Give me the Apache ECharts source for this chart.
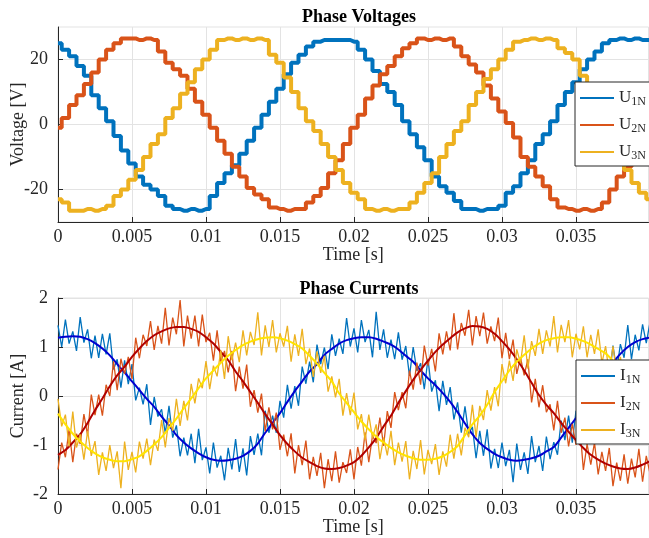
<!DOCTYPE html>
<html><head><meta charset="utf-8">
<script src="https://cdn.jsdelivr.net/npm/echarts@6/dist/echarts.min.js"></script>
<style>html,body{margin:0;padding:0;background:#fff}#c{width:649px;height:538px}</style>
</head><body><div id="c"></div>
<script>
// ---- time bases (s) ----
const timeCoarse = [0,0.0005,0.001,0.0015,0.002,0.0025,0.003,0.0035,0.004,0.0045,0.005,0.0055,0.006,0.0065,0.007,0.0075,0.008,0.0085,0.009,0.0095,0.01,0.0105,0.011,0.0115,0.012,0.0125,0.013,0.0135,0.014,0.0145,0.015,0.0155,0.016,0.0165,0.017,0.0175,0.018,0.0185,0.019,0.0195,0.02,0.0205,0.021,0.0215,0.022,0.0225,0.023,0.0235,0.024,0.0245,0.025,0.0255,0.026,0.0265,0.027,0.0275,0.028,0.0285,0.029,0.0295,0.03,0.0305,0.031,0.0315,0.032,0.0325,0.033,0.0335,0.034,0.0345,0.035,0.0355,0.036,0.0365,0.037,0.0375,0.038,0.0385,0.039,0.0395,0.04];
const timeFine = [
0,0.00025,0.0005,0.00075,0.001,0.00125,0.0015,0.00175,0.002,0.00225,0.0025,0.00275,0.003,0.00325,0.0035,0.00375,
0.004,0.00425,0.0045,0.00475,0.005,0.00525,0.0055,0.00575,0.006,0.00625,0.0065,0.00675,0.007,0.00725,0.0075,0.00775,
0.008,0.00825,0.0085,0.00875,0.009,0.00925,0.0095,0.00975,0.01,0.01025,0.0105,0.01075,0.011,0.01125,0.0115,0.01175,
0.012,0.01225,0.0125,0.01275,0.013,0.01325,0.0135,0.01375,0.014,0.01425,0.0145,0.01475,0.015,0.01525,0.0155,0.01575,
0.016,0.01625,0.0165,0.01675,0.017,0.01725,0.0175,0.01775,0.018,0.01825,0.0185,0.01875,0.019,0.01925,0.0195,0.01975,
0.02,0.02025,0.0205,0.02075,0.021,0.02125,0.0215,0.02175,0.022,0.02225,0.0225,0.02275,0.023,0.02325,0.0235,0.02375,
0.024,0.02425,0.0245,0.02475,0.025,0.02525,0.0255,0.02575,0.026,0.02625,0.0265,0.02675,0.027,0.02725,0.0275,0.02775,
0.028,0.02825,0.0285,0.02875,0.029,0.02925,0.0295,0.02975,0.03,0.03025,0.0305,0.03075,0.031,0.03125,0.0315,0.03175,
0.032,0.03225,0.0325,0.03275,0.033,0.03325,0.0335,0.03375,0.034,0.03425,0.0345,0.03475,0.035,0.03525,0.0355,0.03575,
0.036,0.03625,0.0365,0.03675,0.037,0.03725,0.0375,0.03775,0.038,0.03825,0.0385,0.03875,0.039,0.03925,0.0395,0.03975,
0.04];

// ---- phase voltages (V), read at timeCoarse ----
const u1N = [25,23,21,18,15,9,5,1,-3.5,-8,-12,-16,-18.5,-20,-22,-25,-26,-26.5,-26,-26.5,-26,-22,-18,-15,-12.5,-9,-5,-1,3,7,11,15.5,19,21.5,24,25.5,26,26,26,26,25.5,23,20,16.5,12.5,10,6,1,-3,-7,-11,-16,-19,-21,-23.5,-26,-26,-26.5,-26,-26,-25,-21,-19,-15,-11,-6,-3,1,6,10,13,17,20,22.5,25,26,26.5,26,26.5,26,26];
const u2N = [-1,2,6,9,12.5,16,20,23,25,26.5,26.5,26,26.5,26,22.5,19,17,15,11,7,3,-1,-5,-9,-13,-16,-19.5,-21.5,-23,-25.5,-26,-26.5,-26,-26,-24,-22,-19.5,-15,-11,-6,-1,3,8,12,15.5,18,21,23.5,25,26.5,26,26.5,26,26.5,24,21,18.5,16,12,8,4,0.5,-4,-10,-13,-16,-19,-23,-25.5,-26,-26.5,-26,-26.5,-26,-24,-20,-16,-13,-10,-7,-4];
const u3N = [-23,-24,-26.5,-26.5,-26,-26.5,-26,-25,-22,-20,-17,-14,-10,-6,-3,2,5,9.5,13,17,20,23,26,26.5,26,26.5,26,26.5,26,21.5,19,14.5,10,5,1,-2,-6,-10,-14,-18,-21,-23,-26,-26.5,-26,-26.5,-26,-26,-24,-21,-18,-15,-10,-6,-2,1,6,10,14,17,20,23,25.5,26,26.5,26,26.5,26,23.5,22,20,15,11,6,2,-3,-8,-14,-18,-21,-23];

// ---- phase currents (A): filtered, read at timeCoarse ----
const i1NFilt = [1.19,1.21,1.22,1.21,1.16,1.08,0.97,0.83,0.65,0.48,0.30,0.12,-0.06,-0.22,-0.42,-0.60,-0.80,-0.95,-1.07,-1.17,-1.25,-1.30,-1.32,-1.31,-1.28,-1.22,-1.12,-0.97,-0.75,-0.55,-0.35,-0.12,0.10,0.30,0.50,0.65,0.84,0.96,1.07,1.14,1.18,1.20,1.20,1.17,1.11,1.05,0.95,0.82,0.70,0.52,0.36,0.22,0.06,-0.12,-0.33,-0.56,-0.78,-0.96,-1.08,-1.18,-1.25,-1.30,-1.32,-1.30,-1.27,-1.22,-1.13,-1.04,-0.85,-0.65,-0.45,-0.22,0.02,0.25,0.48,0.68,0.86,1.00,1.10,1.16,1.19];
const i2NFilt = [-1.20,-1.10,-0.95,-0.78,-0.55,-0.29,-0.05,0.20,0.42,0.60,0.80,0.97,1.12,1.24,1.32,1.38,1.41,1.41,1.37,1.31,1.20,1.07,0.90,0.73,0.50,0.30,0.08,-0.14,-0.37,-0.58,-0.80,-0.98,-1.13,-1.26,-1.35,-1.43,-1.48,-1.49,-1.47,-1.42,-1.35,-1.22,-1.05,-0.86,-0.62,-0.40,-0.14,0.10,0.33,0.53,0.72,0.90,1.05,1.18,1.30,1.38,1.43,1.42,1.37,1.27,1.12,0.95,0.75,0.52,0.27,0.02,-0.18,-0.35,-0.55,-0.73,-0.90,-1.06,-1.20,-1.30,-1.38,-1.44,-1.48,-1.49,-1.46,-1.40,-1.33];
const i3NFilt = [-0.36,-0.58,-0.77,-0.93,-1.06,-1.17,-1.25,-1.30,-1.33,-1.33,-1.29,-1.23,-1.12,-0.99,-0.84,-0.65,-0.46,-0.25,-0.05,0.16,0.36,0.52,0.68,0.82,0.94,1.04,1.11,1.16,1.19,1.20,1.18,1.13,1.06,0.97,0.82,0.66,0.47,0.30,0.05,-0.14,-0.33,-0.52,-0.68,-0.83,-0.95,-1.06,-1.15,-1.22,-1.27,-1.30,-1.30,-1.28,-1.23,-1.14,-1.02,-0.80,-0.58,-0.40,-0.18,0.08,0.30,0.52,0.70,0.84,0.97,1.07,1.14,1.18,1.20,1.20,1.17,1.12,1.05,0.96,0.87,0.72,0.55,0.35,0.15,-0.05,-0.25];

// ---- phase currents (A): measured, read at timeFine ----
const i1NRaw = [1.44,1.00,1.56,1.07,1.32,0.92,1.61,1.09,1.36,0.77,1.23,0.78,1.27,0.85,1.28,0.54,0.75,0.17,0.73,0.24,
0.65,-0.09,0.17,-0.17,0.24,-0.59,-0.02,-0.42,-0.27,-0.76,-0.20,-0.85,-0.60,-1.23,-0.85,-1.21,-0.77,-1.37,-0.67,-1.31,
-1.05,-1.58,-0.95,-1.46,-1.22,-1.72,-1.06,-1.50,-0.88,-1.55,-1.07,-1.62,-0.82,-1.20,-0.77,-1.21,-0.30,-0.75,-0.40,-0.75,
-0.10,-0.44,0.23,-0.26,0.20,-0.20,0.60,0.25,0.70,0.28,1.05,0.65,0.99,0.55,1.26,0.82,1.17,0.86,1.59,1.01,
1.38,0.89,1.55,1.10,1.35,0.79,1.72,0.94,1.36,0.78,1.15,0.75,1.30,0.74,1.02,0.41,1.00,0.51,0.67,0.14,
0.76,0.09,0.32,-0.31,0.31,-0.18,0.18,-0.48,-0.13,-0.75,-0.21,-0.77,-0.63,-1.27,-0.71,-1.22,-0.68,-1.48,-1.08,-1.47,
-0.95,-1.43,-1.10,-1.76,-0.97,-1.51,-1.15,-1.59,-0.82,-1.35,-1.02,-1.53,-0.83,-1.29,-0.94,-1.20,-0.50,-0.90,-0.40,-0.95,
-0.30,-0.54,0.18,-0.40,0.22,0.04,0.55,0.02,0.58,0.38,1.03,0.52,1.06,0.78,1.45,0.75,1.25,0.93,1.46,1.08,1.50];
const i2NRaw = [-1.50,-0.95,-1.25,-0.68,-1.35,-0.77,-0.98,-0.37,-0.80,0.03,-0.39,0.03,-0.40,0.23,0.00,0.71,0.12,0.76,0.45,0.80,
0.35,1.19,0.77,1.25,1.02,1.53,0.94,1.43,1.07,1.80,1.03,1.60,1.26,1.96,1.01,1.64,1.17,1.64,1.01,1.66,
1.10,1.29,0.72,1.34,0.70,0.92,0.48,0.92,0.10,0.60,0.15,0.64,-0.22,0.12,-0.34,0.05,-0.72,-0.23,-0.68,-0.34,
-1.10,-0.79,-1.23,-0.76,-1.58,-1.00,-1.41,-0.91,-1.70,-1.24,-1.63,-1.16,-1.88,-1.29,-1.74,-1.13,-1.77,-1.35,-1.57,-1.09,
-1.70,-1.04,-1.42,-0.74,-1.35,-0.81,-0.96,-0.44,-1.02,-0.31,-0.65,0.08,-0.29,0.08,-0.25,0.52,0.13,0.68,0.23,1.03,
0.62,0.96,0.50,1.28,0.85,1.32,0.93,1.69,0.95,1.49,1.23,1.76,1.03,1.63,1.22,1.70,1.07,1.42,1.12,1.60,
0.77,1.29,0.75,1.15,0.45,0.79,0.42,0.75,-0.13,0.35,-0.23,0.22,-0.33,-0.17,-0.70,-0.10,-0.75,-0.44,-1.03,-0.57,
-1.00,-0.58,-1.51,-0.98,-1.40,-0.95,-1.60,-1.14,-1.53,-1.06,-1.84,-1.36,-1.73,-1.19,-1.79,-1.28,-1.66,-1.08,-1.75,-1.22,-1.58];
const i3NRaw = [-0.06,-0.62,-0.38,-1.03,-0.32,-1.05,-0.78,-1.30,-0.71,-1.22,-0.92,-1.61,-1.15,-1.53,-1.00,-1.47,-1.13,-1.88,-0.93,-1.51,
-1.14,-1.56,-0.93,-1.28,-0.87,-1.41,-0.89,-1.12,-0.49,-1.05,-0.45,-0.71,-0.06,-0.61,-0.10,-0.50,0.25,-0.15,0.36,0.16,
0.71,0.14,0.62,0.40,0.93,0.35,1.22,0.73,1.09,0.69,1.34,0.83,1.31,1.04,1.71,0.83,1.44,1.00,1.55,0.89,
1.28,1.01,1.43,0.70,1.26,0.82,1.37,0.65,0.97,0.39,0.91,0.47,0.82,0.09,0.40,-0.03,0.35,-0.40,0.06,-0.39,
0.07,-0.68,-0.37,-0.90,-0.38,-0.86,-0.58,-1.29,-0.85,-1.21,-0.71,-1.41,-0.95,-1.34,-0.92,-1.70,-1.12,-1.49,-0.90,-1.60,
-1.10,-1.39,-0.98,-1.61,-1.13,-1.44,-0.79,-1.28,-0.77,-1.21,-0.65,-0.84,-0.18,-0.84,-0.20,-0.49,0.12,-0.30,0.18,-0.21,
0.65,0.26,0.72,0.31,0.95,0.67,1.24,0.56,1.12,0.82,1.37,0.86,1.34,1.01,1.63,0.89,1.45,1.10,1.55,0.79,
1.27,0.95,1.42,0.79,1.25,0.86,1.36,0.67,1.02,0.45,1.02,0.44,0.80,0.35,0.70,-0.05,0.35,-0.20,0.25,-0.25,-0.58];

const voltageTicks = [-20, 0, 20];

// ---- styling ----
const FONT = 'Liberation Serif';
const AX = '#262626';
const GRID = '#E3E3E3';
const C1 = '#0072BD', C2 = '#D95319', C3 = '#EDB120';

function pairs(t, v) { return t.map((x, k) => [x, v[k]]); }
function timeFmt(v) { return v === 0 ? '0' : String(parseFloat(v.toFixed(4))); }

function xAx(gi) {
  return {
    type: 'value', gridIndex: gi, min: 0, max: 0.0399, interval: 0.005,
    name: 'Time [s]', nameLocation: 'middle', nameGap: 24, nameMoveOverlap: false,
    nameTextStyle: { fontFamily: FONT, fontSize: 18, color: AX },
    axisLine: { show: true, onZero: false, lineStyle: { color: AX, width: 1 } },
    axisTick: { show: true, inside: true, length: 5, lineStyle: { color: AX } },
    axisLabel: { margin: 6, fontFamily: FONT, fontSize: 18, color: AX, formatter: timeFmt, showMaxLabel: false },
    splitLine: { show: true, lineStyle: { color: GRID, width: 1 } }
  };
}

const legendCommon = {
  orient: 'vertical', itemWidth: 34, itemHeight: 2, itemGap: 8, icon: 'rect',
  backgroundColor: '#fff', borderColor: AX, borderWidth: 1, borderRadius: 0,
  padding: [7, 40, 4, 5],
  formatter: function (n) { return '{m|' + n.charAt(0) + '}{s|' + n.slice(1) + '}'; },
  textStyle: {
    rich: {
      m: { fontFamily: FONT, fontSize: 17, color: AX, lineHeight: 20 },
      s: { fontFamily: FONT, fontSize: 12, color: AX, lineHeight: 12, verticalAlign: 'bottom', padding: [7, 0, 0, 0] }
    }
  },
  selectedMode: false
};

function lineS(name, xi, t, v, color, width, step) {
  const s = {
    name: name, type: 'line', xAxisIndex: xi, yAxisIndex: xi, data: pairs(t, v),
    showSymbol: false, symbol: 'none', silent: true, smooth: false,
    lineStyle: { width: width, color: color }, itemStyle: { color: color }
  };
  if (step) s.step = 'middle';
  return s;
}

function yName(txt) {
  return { name: txt, nameLocation: 'middle', nameGap: 31, nameMoveOverlap: false,
    nameTextStyle: { fontFamily: FONT, fontSize: 18, color: AX } };
}

const option = {
  animation: false,
  backgroundColor: '#fff',
  title: [
    { text: 'Phase Voltages', left: 354, top: 3, textAlign: 'center',
      textStyle: { fontFamily: FONT, fontSize: 18, fontWeight: 'bold', color: '#000' } },
    { text: 'Phase Currents', left: 354, top: 275, textAlign: 'center',
      textStyle: { fontFamily: FONT, fontSize: 18, fontWeight: 'bold', color: '#000' } }
  ],
  grid: [
    { left: 58, top: 27, width: 590.5, height: 195, show: true, borderColor: GRID, borderWidth: 1,
      backgroundColor: 'transparent', containLabel: false, outerBoundsMode: 'none' },
    { left: 58, top: 298, width: 590.5, height: 196, show: true, borderColor: GRID, borderWidth: 1,
      backgroundColor: 'transparent', containLabel: false, outerBoundsMode: 'none' }
  ],
  xAxis: [xAx(0), xAx(1)],
  yAxis: [
    Object.assign(yName('Voltage [V]'), { type: 'value', gridIndex: 0, min: -30, max: 30, interval: 10,
      axisLine: { show: true, onZero: false, lineStyle: { color: AX } },
      axisTick: { show: true, inside: true, length: 5, lineStyle: { color: AX }, customValues: voltageTicks },
      axisLabel: { margin: 10, fontFamily: FONT, fontSize: 18, color: AX, customValues: voltageTicks,
        formatter: function (v) { return (Math.round(v) % 20 === 0 && Math.abs(v) < 30) ? String(v) : ''; } },
      splitLine: { show: true, lineStyle: { color: GRID } } }),
    Object.assign(yName('Current [A]'), { type: 'value', gridIndex: 1, min: -2, max: 2, interval: 1,
      axisLine: { show: true, onZero: false, lineStyle: { color: AX } },
      axisTick: { show: true, inside: true, length: 5, lineStyle: { color: AX } },
      axisLabel: { margin: 10, fontFamily: FONT, fontSize: 18, color: AX },
      splitLine: { show: true, lineStyle: { color: GRID } } })
  ],
  legend: [
    Object.assign({}, legendCommon, { data: ['U1N', 'U2N', 'U3N'], left: 575, top: 82 }),
    Object.assign({}, legendCommon, { data: ['I1N', 'I2N', 'I3N'], left: 576, top: 360 })
  ],
  series: [
    lineS('U1N', 0, timeCoarse, u1N, C1, 4, true),
    lineS('U2N', 0, timeCoarse, u2N, C2, 4, true),
    lineS('U3N', 0, timeCoarse, u3N, C3, 4, true),
    lineS('I1N', 1, timeFine, i1NRaw, C1, 1.3, false),
    lineS('I1N filt', 1, timeCoarse, i1NFilt, '#0000D0', 2, false),
    lineS('I2N', 1, timeFine, i2NRaw, C2, 1.3, false),
    lineS('I2N filt', 1, timeCoarse, i2NFilt, '#B00000', 2, false),
    lineS('I3N', 1, timeFine, i3NRaw, C3, 1.3, false),
    lineS('I3N filt', 1, timeCoarse, i3NFilt, '#FFE400', 2, false)
  ]
};
option.series[4].smooth = 0.3; option.series[6].smooth = 0.3; option.series[8].smooth = 0.3;

const chart = echarts.init(document.getElementById('c'), null, { renderer: 'canvas' });
chart.setOption(option);
</script>
</body></html>
